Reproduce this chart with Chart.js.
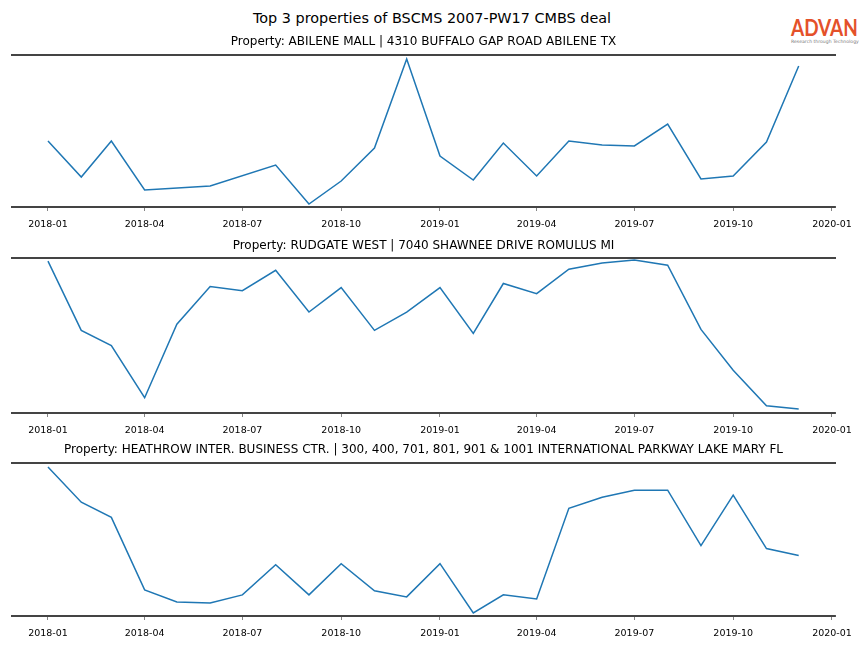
<!DOCTYPE html>
<html>
<head>
<meta charset="utf-8">
<script src="https://cdn.jsdelivr.net/npm/chart.js@4/dist/chart.umd.min.js"></script>
<style>
  body { margin: 0; width: 864px; height: 648px; background: #fff; position: relative; overflow: hidden; font-family: "DejaVu Sans", sans-serif; }
  #titulo { position: absolute; top: 10px; left: 0; width: 864px; text-align: center; font-size: 14.4px; color: #000; }
  #logo { position: absolute; top: 17px; left: 791px; width: 70px; text-align: left; }
  #logo .marca { font-family: Lato, sans-serif; font-weight: 700; font-size: 22px; color: #e4512a; line-height: 22px; transform: scaleX(0.86); transform-origin: left; }
  #logo .lema { font-size: 4.6px; color: #777; line-height: 6px; white-space: nowrap; }
  .caja { position: absolute; left: 0; width: 864px; }
</style>
</head>
<body>
<div id="titulo">Top 3 properties of BSCMS 2007-PW17 CMBS deal</div>
<div id="logo"><div class="marca">ADVAN</div><div class="lema">Research through Technology</div></div>
<div class="caja" style="top:30px;height:210px"><canvas id="g1"></canvas></div>
<div class="caja" style="top:235px;height:210px"><canvas id="g2"></canvas></div>
<div class="caja" style="top:440px;height:208px"><canvas id="g3"></canvas></div>
<script>
//meses de la serie (mensual)
const meses = ["2018-01","2018-02","2018-03","2018-04","2018-05","2018-06","2018-07","2018-08","2018-09","2018-10","2018-11","2018-12",
               "2019-01","2019-02","2019-03","2019-04","2019-05","2019-06","2019-07","2019-08","2019-09","2019-10","2019-11","2019-12"];

//titulos de cada propiedad
const titulos = [
  "Property: ABILENE MALL | 4310 BUFFALO GAP ROAD ABILENE TX",
  "Property: RUDGATE WEST | 7040 SHAWNEE DRIVE ROMULUS MI",
  "Property: HEATHROW INTER. BUSINESS CTR. | 300, 400, 701, 801, 901 & 1001 INTERNATIONAL PARKWAY LAKE MARY FL"
];

//valores (null = mes sin dato)
const abilene = [66, 30, 66, 17, null, 21, null, 42, 3, 26, 59, 148, 51, 27, 64, 31, 66, 62, 61, 83, 28, 31, 65, 141];
const rudgate = [149, 81, 66, 15, 87, 124, 120, 140, 99, 123, 81, 99, 123, 78, 127, 117, 141, 147, 150, 145, 82, 42, 7, 4];
const heathrow = [148, 113, 98, 26, 14, 13, 21, 51, 21, 52, 25, 19, 52, 3, 21, 17, 107, 118, 125, 125, 70, 120, 67, 60];

//etiquetas del eje x
const etiquetasX = ["2018-01","2018-04","2018-07","2018-10","2019-01","2019-04","2019-07","2019-10","2020-01"];

//dias desde 2018-01-01 para una fecha "AAAA-MM"
function dias(txt) {
  const [a, m] = txt.split("-").map(Number);
  return (Date.UTC(a, m - 1, 1) - Date.UTC(2018, 0, 1)) / 86400000;
}
const ticksX = etiquetasX.map(dias);

//crea un grafico de linea con sus margenes
function renderGrafica(id, titulo, valores, tituloArriba, tituloAbajo, rellenoAbajo) {
  const puntos = meses.map((m, i) => ({ x: dias(m), y: valores[i] }));
  const ctx = document.getElementById(id).getContext("2d");
  return new Chart(ctx, {
    type: "line",
    data: {
      datasets: [{
        data: puntos,
        borderColor: "#1f77b4",
        borderWidth: 1.5,
        pointRadius: 0,
        tension: 0,
        spanGaps: true
      }]
    },
    options: {
      responsive: true,
      maintainAspectRatio: false,
      animation: false,
      layout: { padding: { left: 12, right: 29, top: 0, bottom: rellenoAbajo } },
      plugins: {
        legend: { display: false },
        tooltip: { enabled: false },
        title: {
          display: true,
          text: titulo,
          color: "#000",
          font: { family: "DejaVu Sans", size: 12, weight: "normal" },
          padding: { top: tituloArriba, bottom: tituloAbajo }
        }
      },
      scales: {
        x: {
          type: "linear",
          min: -33.5,
          max: 732.8,
          afterBuildTicks: (eje) => { eje.ticks = ticksX.map(v => ({ value: v })); },
          ticks: {
            autoSkip: false,
            maxRotation: 0,
            padding: 8,
            color: "#000",
            font: { family: "DejaVu Sans", size: 9.5 },
            callback: (v) => etiquetasX[ticksX.indexOf(v)]
          },
          grid: { display: true, drawOnChartArea: false, drawTicks: true, tickLength: 4, color: "#666", lineWidth: 0.8 },
          border: { display: true, color: "#444", width: 2 }
        },
        arriba: {
          type: "linear",
          position: "top",
          axis: "x",
          ticks: { display: false },
          grid: { display: false, drawTicks: false },
          border: { display: true, color: "#444", width: 2 }
        },
        y: { display: false, min: 0, max: 152 }
      }
    }
  });
}

renderGrafica("g1", titulos[0], abilene, 5, 5.6, 1.6);
renderGrafica("g2", titulos[1], rudgate, 3.8, 4.8, 0.6);
renderGrafica("g3", titulos[2], heathrow, 2.8, 5.8, 0.6);
</script>
</body>
</html>
